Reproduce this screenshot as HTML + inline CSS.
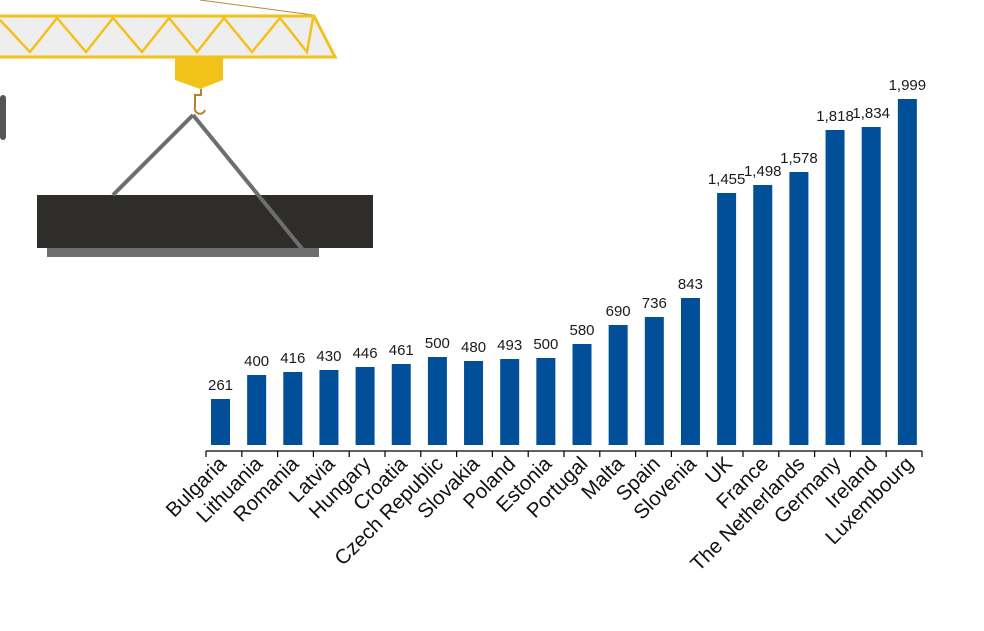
<!DOCTYPE html>
<html><head><meta charset="utf-8"><style>
html,body{margin:0;padding:0;background:#fff;width:984px;height:631px;overflow:hidden}
svg{display:block}
text{font-family:"Liberation Sans",Arial,sans-serif}
</style></head><body>
<svg width="984" height="631" viewBox="0 0 984 631" xmlns="http://www.w3.org/2000/svg">
<line x1="200" y1="0" x2="313" y2="15" stroke="#b88a3a" stroke-width="1"/>
<polygon points="0,16 314,16 335,57 0,57" fill="#eeeeee"/>
<polyline points="0,16 314,16 335,57 0,57" fill="none" stroke="#f2c21b" stroke-width="3"/>
<polyline points="0,20 30,52 57,18 86,52 113,18 142,52 169,18 197,52 224,18 252,52 280,18 307,52 313,18" fill="none" stroke="#f2c21b" stroke-width="2.5"/>
<polygon points="175,57 223,57 223,80 200,89 175,80" fill="#f2c21b"/>
<path d="M201,89 v6 h-6 v12 a5,5 0 0 0 10,3" fill="none" stroke="#b5822f" stroke-width="2"/>
<rect x="0" y="95" width="6" height="45" rx="3" fill="#555"/>
<rect x="47" y="246" width="272" height="11" fill="#6e6e6e"/>
<rect x="37" y="195" width="336" height="53" fill="#2e2d29"/>
<line x1="193" y1="115" x2="113" y2="195" stroke="#6e6e6e" stroke-width="4"/>
<line x1="193" y1="115" x2="303" y2="250" stroke="#6e6e6e" stroke-width="4"/>
<line x1="206" y1="451" x2="922" y2="451" stroke="#000" stroke-width="1.2"/>
<g id="bars"></g>
</svg>
<script>
var names=["Bulgaria","Lithuania","Romania","Latvia","Hungary","Croatia","Czech Republic","Slovakia","Poland","Estonia","Portugal","Malta","Spain","Slovenia","UK","France","The Netherlands","Germany","Ireland","Luxembourg"];
var vals=["261","400","416","430","446","461","500","480","493","500","580","690","736","843","1,455","1,498","1,578","1,818","1,834","1,999"];
var tops=[399,375,372,370,367,364,357,361,359,358,344,325,317,298,193,185,172,130,127,99];
var g=document.getElementById('bars'),s='';
for(var i=0;i<=20;i++){var tx=206+i*35.8;s+='<line x1="'+tx+'" y1="451" x2="'+tx+'" y2="457" stroke="#000" stroke-width="1.2"/>';}
for(var i=0;i<20;i++){
 var x=211+i*36.15,t=tops[i],c=x+9.5;
 s+='<rect x="'+x+'" y="'+t+'" width="19" height="'+(445-t)+'" fill="#004f98"/>';
 s+='<text x="'+c+'" y="'+(t-9)+'" font-size="15" text-anchor="middle" fill="#1a1a1a">'+vals[i]+'</text>';
 var lx=c+7,ly=465;
 s+='<text x="'+lx+'" y="'+ly+'" font-size="20.5" text-anchor="end" fill="#111" transform="rotate(-45 '+lx+' '+ly+')">'+names[i]+'</text>';
}
g.innerHTML=s;
</script>
</body></html>
